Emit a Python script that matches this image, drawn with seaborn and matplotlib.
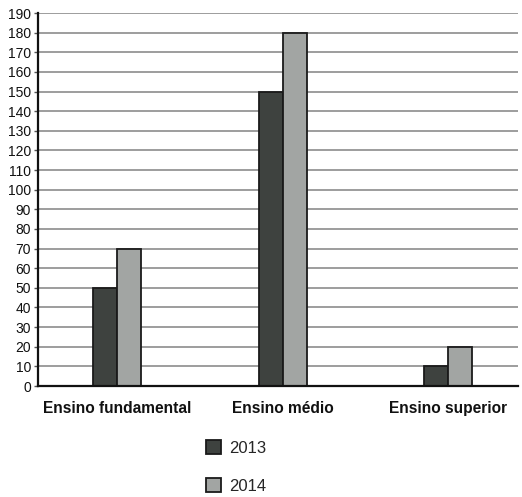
import matplotlib
matplotlib.use("Agg")
import matplotlib.pyplot as plt
import seaborn as sns
import pandas as pd

categories = ["Ensino fundamental", "Ensino médio", "Ensino superior"]
years = ["2013", "2014"]
values_2013 = [50, 150, 10]
values_2014 = [70, 180, 20]
yticks = list(range(0, 200, 10))

df = pd.DataFrame({
    "categoria": categories * 2,
    "ano": [years[0]] * 3 + [years[1]] * 3,
    "valor": values_2013 + values_2014,
})

sns.set_theme(style="white")
plt.rcParams["font.family"] = ["Liberation Sans", "DejaVu Sans"]

fig = plt.figure(figsize=(5.22, 4.97), dpi=100)
ax = fig.add_axes([0.0728, 0.2233, 0.9192, 0.7505])

palette = {"2013": "#3e423f", "2014": "#a2a5a3"}
sns.barplot(data=df, x="categoria", y="valor", hue="ano", order=categories,
            hue_order=years, palette=palette, width=0.29, dodge=True,
            edgecolor="#1a1a1a", linewidth=1.3, saturation=1, ax=ax, legend=True)

ax.set_ylim(0, 190)
ax.set_yticks(yticks)
ax.set_yticklabels([str(t) for t in yticks], fontsize=10)
ax.set_xlim(-0.480, 2.420)
ax.yaxis.grid(True, color="#8c8c8c", linewidth=1.2)
ax.set_axisbelow(True)
ax.set_xlabel("")
ax.set_ylabel("")
for s in ["top", "right"]:
    ax.spines[s].set_visible(False)
ax.spines["left"].set_color("#111111")
ax.spines["left"].set_linewidth(1.6)
ax.spines["bottom"].set_color("#111111")
ax.spines["bottom"].set_linewidth(1.6)
ax.tick_params(axis="y", left=True, length=3, width=1, color="#555555", pad=2, labelcolor="#111111")
ax.tick_params(axis="x", bottom=False, pad=5, labelsize=11.2, labelcolor="#111111")
for lbl in ax.get_xticklabels():
    lbl.set_fontweight("bold")

handles, labels = ax.get_legend_handles_labels()
ax.get_legend().remove()
fig.legend(handles, labels, loc="center", bbox_to_anchor=(0.452, 0.06), frameon=False,
           fontsize=12, labelspacing=1.35, handlelength=0.9, handleheight=0.9,
           handletextpad=0.45)

fig.savefig("out.png", dpi=100)
